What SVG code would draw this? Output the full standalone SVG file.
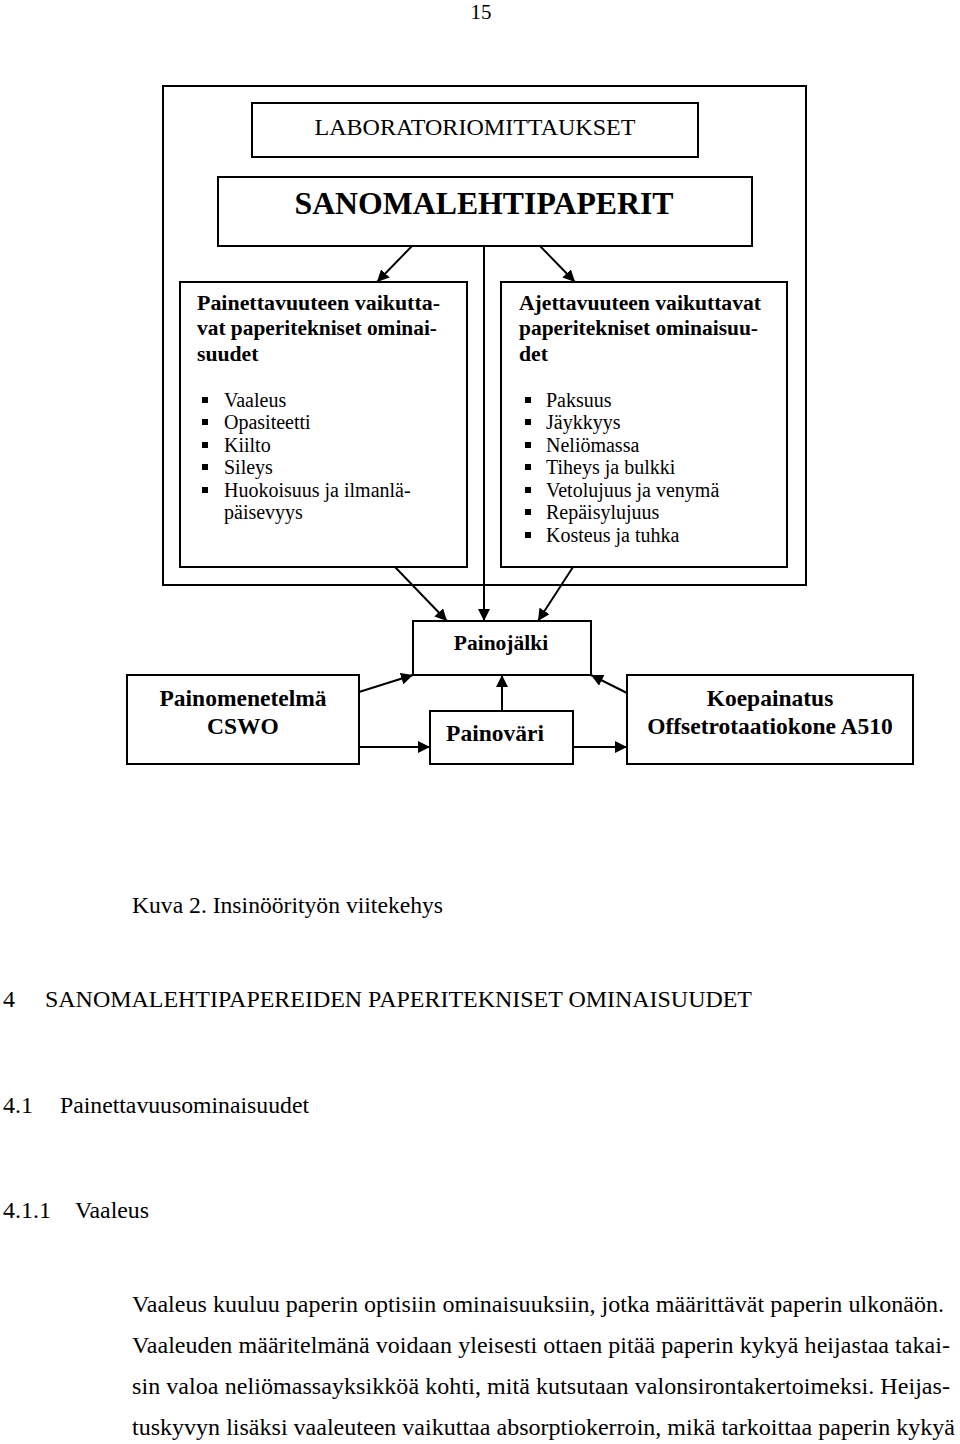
<svg xmlns="http://www.w3.org/2000/svg" width="960" height="1444" viewBox="0 0 960 1444">
<style>
text{font-family:"Liberation Serif","Times New Roman",serif;fill:#000}
.b{font-weight:bold}
.box{fill:none;stroke:#000;stroke-width:2}
.con{fill:none;stroke:#000;stroke-width:2}
.body{font-size:24px}
.li{font-size:20px}
.hd{font-size:21.7px;font-weight:bold}
.bl{font-size:23.5px;font-weight:bold}
.sq{fill:#000}
</style>
<defs>
<marker id="ah" viewBox="0 0 10 10" refX="10" refY="5" markerWidth="6" markerHeight="6" markerUnits="strokeWidth" orient="auto">
<path d="M0,0 L10,5 L0,10 z" fill="#000"/>
</marker>
</defs>
<rect width="960" height="1444" fill="#fff"/>
<text x="481" y="19" font-size="21" text-anchor="middle">15</text>

<g id="outer"><rect class="box" x="163" y="86" width="643" height="499"/></g>
<g id="lab"><rect class="box" x="252" y="103" width="446" height="54"/>
<text x="475" y="135" font-size="24" text-anchor="middle" textLength="321" lengthAdjust="spacingAndGlyphs">LABORATORIOMITTAUKSET</text></g>
<g id="sano"><rect class="box" x="218" y="177" width="534" height="69"/>
<text class="b" x="484" y="214" font-size="32" text-anchor="middle" textLength="379" lengthAdjust="spacingAndGlyphs">SANOMALEHTIPAPERIT</text></g>

<g id="left"><rect class="box" x="180" y="282" width="287" height="285"/>
<text class="hd" x="197" y="310" textLength="243" lengthAdjust="spacingAndGlyphs">Painettavuuteen vaikutta-</text>
<text class="hd" x="197" y="335" textLength="240" lengthAdjust="spacingAndGlyphs">vat paperitekniset ominai-</text>
<text class="hd" x="197" y="361">suudet</text>
<rect class="sq" x="202" y="397" width="6" height="6"/><text class="li" x="224" y="407">Vaaleus</text>
<rect class="sq" x="202" y="419" width="6" height="6"/><text class="li" x="224" y="429">Opasiteetti</text>
<rect class="sq" x="202" y="442" width="6" height="6"/><text class="li" x="224" y="452">Kiilto</text>
<rect class="sq" x="202" y="464" width="6" height="6"/><text class="li" x="224" y="474">Sileys</text>
<rect class="sq" x="202" y="487" width="6" height="6"/><text class="li" x="224" y="497">Huokoisuus ja ilmanlä-</text>
<text class="li" x="224" y="519">päisevyys</text>
</g>

<g id="right"><rect class="box" x="501" y="282" width="286" height="285"/>
<text class="hd" x="519" y="310" textLength="242" lengthAdjust="spacingAndGlyphs">Ajettavuuteen vaikuttavat</text>
<text class="hd" x="519" y="335" textLength="239" lengthAdjust="spacingAndGlyphs">paperitekniset ominaisuu-</text>
<text class="hd" x="519" y="361">det</text>
<rect class="sq" x="525" y="397" width="6" height="6"/><text class="li" x="546" y="407">Paksuus</text>
<rect class="sq" x="525" y="419" width="6" height="6"/><text class="li" x="546" y="429">Jäykkyys</text>
<rect class="sq" x="525" y="442" width="6" height="6"/><text class="li" x="546" y="452">Neliömassa</text>
<rect class="sq" x="525" y="464" width="6" height="6"/><text class="li" x="546" y="474">Tiheys ja bulkki</text>
<rect class="sq" x="525" y="487" width="6" height="6"/><text class="li" x="546" y="497">Vetolujuus ja venymä</text>
<rect class="sq" x="525" y="509" width="6" height="6"/><text class="li" x="546" y="519">Repäisylujuus</text>
<rect class="sq" x="525" y="532" width="6" height="6"/><text class="li" x="546" y="542">Kosteus ja tuhka</text>
</g>

<g id="painojalki"><rect class="box" x="413" y="621" width="178" height="54"/>
<text class="b" x="501" y="650" font-size="21.5" text-anchor="middle">Painojälki</text></g>
<g id="painomenetelma"><rect class="box" x="127" y="675" width="232" height="89"/>
<text class="bl" x="243" y="706" text-anchor="middle">Painomenetelmä</text>
<text class="bl" x="243" y="734" text-anchor="middle">CSWO</text></g>
<g id="painovari"><rect class="box" x="430" y="711" width="143" height="53"/>
<text class="bl" x="495" y="741" text-anchor="middle">Painoväri</text></g>
<g id="koepainatus"><rect class="box" x="627" y="675" width="286" height="89"/>
<text class="bl" x="770" y="706" text-anchor="middle">Koepainatus</text>
<text class="bl" x="770" y="734" text-anchor="middle">Offsetrotaatiokone A510</text></g>

<g id="connectors">
<line class="con" x1="412" y1="246" x2="377" y2="282" marker-end="url(#ah)"/>
<line class="con" x1="540" y1="246" x2="575" y2="282" marker-end="url(#ah)"/>
<line class="con" x1="484" y1="246" x2="484" y2="621" marker-end="url(#ah)"/>
<line class="con" x1="395" y1="567" x2="447" y2="621" marker-end="url(#ah)"/>
<line class="con" x1="573" y1="567" x2="538" y2="621" marker-end="url(#ah)"/>
<line class="con" x1="359" y1="692" x2="413" y2="675" marker-end="url(#ah)"/>
<line class="con" x1="359" y1="747" x2="430" y2="747" marker-end="url(#ah)"/>
<line class="con" x1="502" y1="711" x2="502" y2="675" marker-end="url(#ah)"/>
<line class="con" x1="627" y1="693" x2="591" y2="675" marker-end="url(#ah)"/>
<line class="con" x1="573" y1="747" x2="627" y2="747" marker-end="url(#ah)"/>
</g>

<text class="body" x="132" y="913" textLength="311" lengthAdjust="spacingAndGlyphs">Kuva 2. Insinöörityön viitekehys</text>
<text class="body" x="3" y="1007">4</text>
<text class="body" x="45" y="1007" textLength="707" lengthAdjust="spacingAndGlyphs">SANOMALEHTIPAPEREIDEN PAPERITEKNISET OMINAISUUDET</text>
<text class="body" x="3" y="1113">4.1</text>
<text class="body" x="60" y="1113" textLength="249" lengthAdjust="spacingAndGlyphs">Painettavuusominaisuudet</text>
<text class="body" x="3" y="1218">4.1.1</text>
<text class="body" x="75" y="1218" textLength="74" lengthAdjust="spacingAndGlyphs">Vaaleus</text>
<text class="body" x="132" y="1312" textLength="812" lengthAdjust="spacing">Vaaleus kuuluu paperin optisiin ominaisuuksiin, jotka määrittävät paperin ulkonäön.</text>
<text class="body" x="132" y="1353" textLength="818" lengthAdjust="spacing">Vaaleuden määritelmänä voidaan yleisesti ottaen pitää paperin kykyä heijastaa takai-</text>
<text class="body" x="132" y="1394" textLength="818" lengthAdjust="spacing">sin valoa neliömassayksikköä kohti, mitä kutsutaan valonsirontakertoimeksi. Heijas-</text>
<text class="body" x="132" y="1435" textLength="823" lengthAdjust="spacing">tuskyvyn lisäksi vaaleuteen vaikuttaa absorptiokerroin, mikä tarkoittaa paperin kykyä</text>
</svg>
